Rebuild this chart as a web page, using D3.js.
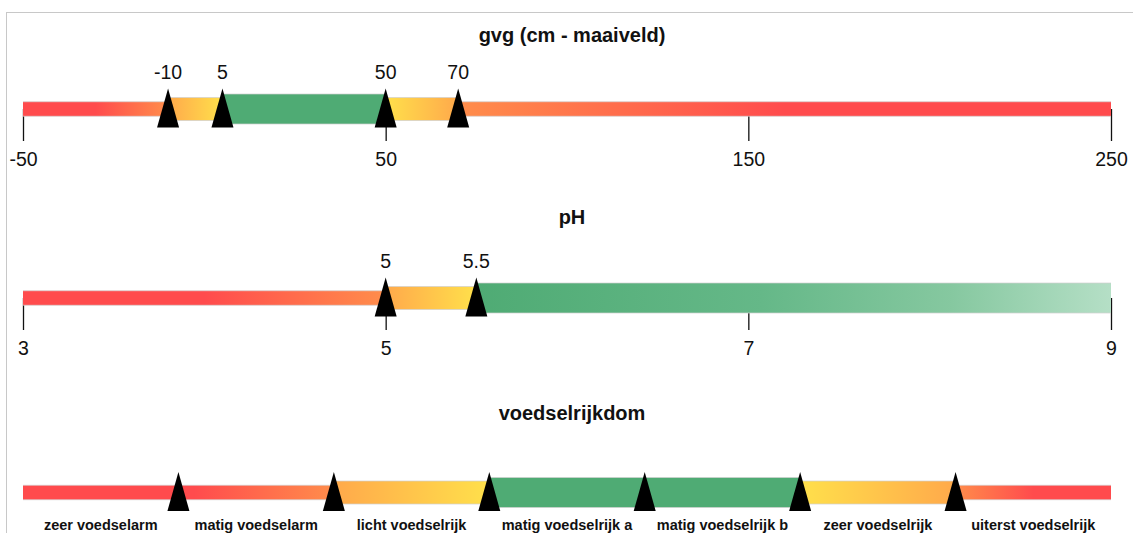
<!DOCTYPE html>
<html>
<head>
<meta charset="utf-8">
<script src="https://cdn.jsdelivr.net/npm/d3@7/dist/d3.min.js"></script>
<style>
  html, body { margin: 0; padding: 0; background: #fff; }
  svg { display: block; font-family: "Liberation Sans", Arial, Helvetica, sans-serif; }
</style>
</head>
<body>
<svg id="chart" width="1133" height="533"></svg>
<script>
// ---------- data ----------
const gvgTitle = "gvg (cm - maaiveld)";
const gvgBreaks = [-50, -10, 5, 50, 70, 250];
const gvgZones = ["slecht", "matig", "goed", "matig", "slecht"];
const gvgMarkers = [-10, 5, 50, 70];
const gvgTicks = [-50, 50, 150, 250];

const phTitle = "pH";
const phBreaks = [3, 5, 5.5, 9];
const phZones = ["slecht", "matig", "goed-aflopend"];
const phMarkers = [5, 5.5];
const phTicks = [3, 5, 7, 9];

const voedselTitle = "voedselrijkdom";
const voedselCategories = ["zeer voedselarm", "matig voedselarm", "licht voedselrijk",
  "matig voedselrijk a", "matig voedselrijk b", "zeer voedselrijk", "uiterst voedselrijk"];
const voedselZones = ["slecht", "slecht", "matig", "goed", "goed", "matig", "slecht"];

// ---------- styling ----------
const RED = "#ff4b4d", ORANGE_S = "#ff8d4b", ORANGE_M = "#ffa94b", YELLOW = "#ffe04b",
      GREEN = "#4fab74", LIGHTGREEN = "#b5dfc6";
const heightOf = { "slecht": 14.5, "matig": 23, "goed": 30, "goed-aflopend": 30 };
const X0 = 23, X1 = 1111, TITLE_X = 572;

const svg = d3.select("#chart");
const defs = svg.append("defs");

// frame
svg.append("rect").attr("x", 6.5).attr("y", 12.5).attr("width", 1300).attr("height", 700)
  .attr("fill", "none").attr("stroke", "#c8c8c8").attr("stroke-width", 1);

let gradId = 0;
function segmentStops(zones, i) {
  const z = zones[i];
  const left = zones[i - 1], right = zones[i + 1];
  const isGood = s => s && s.startsWith("goed");
  if (z === "goed") return [[0, GREEN], [1, GREEN]];
  if (z === "goed-aflopend") return [[0, GREEN], [0.45, "#65b888"], [0.75, "#86c8a0"], [1, LIGHTGREEN]];
  if (z === "matig") {
    const lc = isGood(left) ? YELLOW : ORANGE_M;
    const rc = isGood(right) ? YELLOW : ORANGE_M;
    return [[0, lc], [1, rc]];
  }
  // slecht
  const lm = left === "matig", rm = right === "matig";
  if (!lm && !rm) return [[0, RED], [1, RED]];
  if (rm) {
    const plateau = left === undefined ? 0.5 : 0.1;
    return [[0, RED], [plateau, RED], [1, ORANGE_S]];
  }
  const plateau = right === undefined ? 0.5 : 0.1;
  return [[0, ORANGE_S], [1 - plateau, RED], [1, RED]];
}

function drawBar(g, x, breaks, zones, cy) {
  for (let i = 0; i < zones.length; i++) {
    const xa = x(breaks[i]), xb = x(breaks[i + 1]);
    const h = heightOf[zones[i]];
    const id = "grad" + (gradId++);
    const lg = defs.append("linearGradient").attr("id", id)
      .attr("gradientUnits", "userSpaceOnUse")
      .attr("x1", xa).attr("x2", xb).attr("y1", 0).attr("y2", 0);
    segmentStops(zones, i).forEach(([o, c]) =>
      lg.append("stop").attr("offset", o).attr("stop-color", c));
    g.append("rect").attr("x", xa).attr("y", cy - h / 2)
      .attr("width", xb - xa).attr("height", h).attr("fill", `url(#${id})`);
    [cy - h / 2, cy + h / 2].forEach(yy =>
      g.append("line").attr("x1", xa).attr("x2", xb).attr("y1", yy).attr("y2", yy)
        .attr("stroke", "#d0d0d0").attr("stroke-opacity", 0.7).attr("stroke-width", 1));
  }
}

function drawMarkers(g, x, values, cy) {
  g.selectAll("path.tri").data(values).join("path").attr("class", "tri")
    .attr("d", d => `M${x(d)},${cy - 20.5}L${x(d) + 11},${cy + 18.5}L${x(d) - 11},${cy + 18.5}Z`)
    .attr("fill", "#000");
}

function drawTitle(text, y) {
  svg.append("text").attr("x", TITLE_X).attr("y", y).attr("text-anchor", "middle")
    .attr("font-size", "20px").attr("font-weight", "bold").attr("fill", "#111").text(text);
}

function drawNumeric(title, titleY, breaks, zones, markers, ticks, cy) {
  const x = d3.scaleLinear().domain([breaks[0], breaks[breaks.length - 1]]).range([X0, X1]);
  drawTitle(title, titleY);
  const axis = d3.axisBottom(x).tickValues(ticks).tickSize(32).tickPadding(11.5)
    .tickFormat(d => String(d));
  const ag = svg.append("g").attr("transform", `translate(0,${cy})`).call(axis);
  ag.select(".domain").remove();
  ag.selectAll(".tick line").attr("stroke", "#111").attr("stroke-width", 1.3);
  ag.selectAll(".tick text").attr("font-size", "19.5px").attr("fill", "#111")
    .attr("font-family", "'Liberation Sans', Arial, sans-serif");
  const g = svg.append("g");
  drawBar(g, x, breaks, zones, cy);
  drawMarkers(g, x, markers, cy);
  g.selectAll("text.mlab").data(markers).join("text").attr("class", "mlab")
    .attr("x", d => x(d)).attr("y", cy - 30).attr("text-anchor", "middle")
    .attr("font-size", "19.5px").attr("fill", "#111").text(d => String(d));
}

drawNumeric(gvgTitle, 42, gvgBreaks, gvgZones, gvgMarkers, gvgTicks, 109);
drawNumeric(phTitle, 224, phBreaks, phZones, phMarkers, phTicks, 298);

// voedselrijkdom (categorical)
(function () {
  const n = voedselCategories.length;
  const x = d3.scaleLinear().domain([0, n]).range([X0, X1]);
  const cy = 492.5;
  drawTitle(voedselTitle, 420);
  const g = svg.append("g");
  drawBar(g, x, d3.range(n + 1), voedselZones, cy);
  drawMarkers(g, x, d3.range(1, n), cy);
  g.selectAll("text.clab").data(voedselCategories).join("text").attr("class", "clab")
    .attr("x", (d, i) => x(i + 0.5)).attr("y", 529.5).attr("text-anchor", "middle")
    .attr("font-size", "14.5px").attr("font-weight", "bold").attr("fill", "#111").text(d => d);
})();
</script>
</body>
</html>
